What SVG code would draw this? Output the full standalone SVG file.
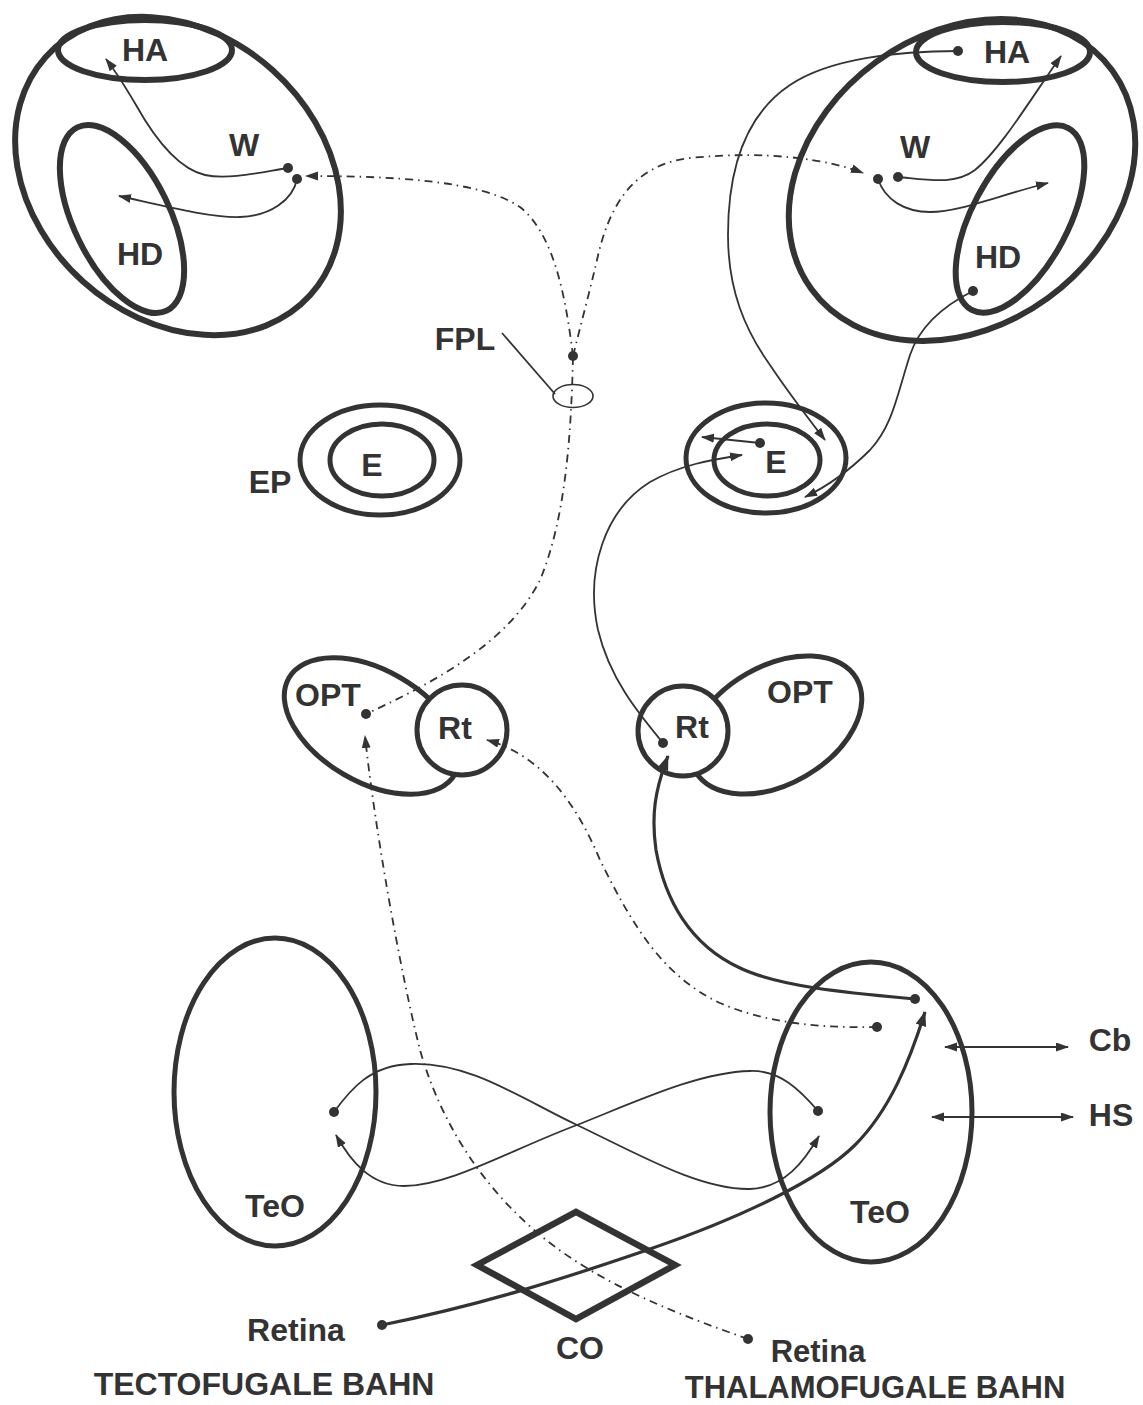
<svg xmlns="http://www.w3.org/2000/svg" width="1143" height="1405" viewBox="0 0 1143 1405">
  <style>
    .region { fill: none; stroke: #333; stroke-width: 6; }
    .nucleus { fill: none; stroke: #333; stroke-width: 5; }
    .cap { fill: #fff; stroke: #333; stroke-width: 5; }
    .lbl { font-family: "Liberation Sans", Arial, sans-serif; font-weight: bold; font-size: 32px; fill: #333; text-anchor: middle; }
    .small { font-size: 31px; }
    .thin { fill: none; stroke: #333; stroke-width: 1.8; }
    .thick { fill: none; stroke: #333; stroke-width: 3.2; }
    .dashdot { fill: none; stroke: #333; stroke-width: 1.8; stroke-dasharray: 8 5 1.5 5; }
    .dot { fill: #333; }
  </style>
  <defs>
    <marker id="arrow" markerUnits="userSpaceOnUse" markerWidth="14" markerHeight="10" refX="12" refY="4.5" orient="auto-start-reverse">
      <path d="M0,0 L13,4.5 L0,9 z" fill="#333"/>
    </marker>
    <marker id="arrowBig" markerUnits="userSpaceOnUse" markerWidth="16" markerHeight="12" refX="14" refY="5.5" orient="auto">
      <path d="M0,0 L15,5.5 L0,11 z" fill="#333"/>
    </marker>
  </defs>

  <rect width="1143" height="1405" fill="#fff"/>

  <!-- left hemisphere -->
  <g id="hemisphere-left">
    <ellipse class="region" cx="178" cy="176" rx="178" ry="142" transform="rotate(42 178 176)"/>
  </g>
  <g id="HA-left">
    <ellipse class="region" cx="145" cy="50" rx="87" ry="30"/>
    <text class="lbl" x="145" y="61">HA</text>
  </g>
  <g id="HD-left">
    <ellipse class="region" cx="122" cy="219" rx="48" ry="102" transform="rotate(-26 122 219)"/>
    <text class="lbl" x="140" y="265">HD</text>
  </g>
  <g id="W-left">
    <text class="lbl" x="244" y="156">W</text>
  </g>

  <!-- right hemisphere -->
  <g id="hemisphere-right">
    <ellipse class="region" cx="962" cy="180" rx="186" ry="146" transform="rotate(-36 962 180)"/>
  </g>
  <g id="HA-right">
    <ellipse class="region" cx="1003" cy="52" rx="87" ry="30"/>
    <text class="lbl" x="1007" y="63">HA</text>
  </g>
  <g id="HD-right">
    <ellipse class="region" cx="1020" cy="219" rx="48" ry="103" transform="rotate(28 1020 219)"/>
    <text class="lbl" x="998" y="268">HD</text>
  </g>
  <g id="W-right">
    <text class="lbl" x="915" y="158">W</text>
  </g>

  <!-- FPL -->
  <g id="FPL">
    <ellipse fill="none" stroke="#333" stroke-width="1.6" cx="573" cy="396" rx="20" ry="11.5"/>
    <text class="lbl" x="465" y="350">FPL</text>
    <path class="thin" d="M502,333 L555,394"/>
  </g>

  <!-- entopallium -->
  <g id="EP-left">
    <ellipse class="nucleus" cx="380" cy="460" rx="80" ry="55"/>
    <ellipse class="nucleus" cx="382" cy="460" rx="52" ry="36"/>
    <text class="lbl" x="372" y="476">E</text>
    <text class="lbl" x="270" y="493">EP</text>
  </g>
  <g id="EP-right">
    <ellipse class="nucleus" cx="766" cy="458" rx="80" ry="55"/>
    <ellipse class="nucleus" cx="767" cy="460" rx="53" ry="36"/>
    <text class="lbl" x="776" y="473">E</text>
  </g>

  <!-- thalamus -->
  <g id="OPT-left">
    <ellipse class="nucleus" cx="372" cy="726" rx="96" ry="56" transform="rotate(30 372 726)"/>
    <text class="lbl" x="328" y="706">OPT</text>
  </g>
  <g id="Rt-left">
    <circle class="cap" cx="462" cy="730" r="45"/>
    <text class="lbl" x="455" y="739">Rt</text>
  </g>
  <g id="OPT-right">
    <ellipse class="nucleus" cx="776" cy="725" rx="93" ry="59" transform="rotate(-30 776 725)"/>
    <text class="lbl" x="800" y="703">OPT</text>
  </g>
  <g id="Rt-right">
    <circle class="cap" cx="683" cy="731" r="45"/>
    <text class="lbl" x="692" y="738">Rt</text>
  </g>

  <!-- optic tectum -->
  <g id="TeO-left">
    <ellipse class="nucleus" cx="275" cy="1092" rx="101" ry="154"/>
    <text class="lbl" x="275" y="1217">TeO</text>
  </g>
  <g id="TeO-right">
    <ellipse class="nucleus" cx="871" cy="1112" rx="101" ry="150"/>
    <text class="lbl" x="880" y="1223">TeO</text>
  </g>

  <!-- chiasma opticum -->
  <g id="CO">
    <path d="M477,1265 L576,1212 L675,1265 L576,1319 z" fill="none" stroke="#333" stroke-width="6.5" stroke-linejoin="miter"/>
    <text class="lbl" x="580" y="1359">CO</text>
  </g>

  <g id="Cb"><text class="lbl" x="1110" y="1051">Cb</text></g>
  <g id="HS"><text class="lbl" x="1111" y="1126">HS</text></g>
  <g id="Retina-left"><text class="lbl" x="296" y="1341">Retina</text></g>
  <g id="Retina-right"><text class="lbl small" x="818" y="1362">Retina</text></g>
  <g id="captions">
    <text class="lbl" x="264" y="1395">TECTOFUGALE BAHN</text>
    <text class="lbl small" x="875" y="1398">THALAMOFUGALE BAHN</text>
  </g>

  <!-- pathways -->
  <g id="connectors">
    <!-- Wulst projections, left -->
    <path class="thin" marker-end="url(#arrow)" d="M288,168 C262,172 228,180 205,175 C175,168 150,130 136,105 C126,88 116,72 106,59"/>
    <path class="thin" marker-end="url(#arrow)" d="M297,179 C293,200 270,216 240,217 C210,218 160,205 119,196"/>
    <!-- Wulst projections, right -->
    <path class="thin" marker-end="url(#arrow)" d="M898,177 C930,180 955,185 975,170 C1000,150 1030,100 1061,56"/>
    <path class="thin" marker-end="url(#arrow)" d="M878,179 C885,200 905,212 930,212 C960,212 1000,195 1048,183"/>
    <!-- HA and HD to entopallium -->
    <path class="thin" marker-end="url(#arrow)" d="M958,51 C900,51 830,58 790,85 C745,115 728,170 728,235 C728,290 745,330 770,365 C790,395 808,418 825,440"/>
    <path class="thin" marker-end="url(#arrow)" d="M973,291 C945,305 920,325 910,355 C897,395 893,425 870,450 C850,470 830,485 805,497"/>
    <!-- entopallium internal / Rt input -->
    <path class="thin" marker-end="url(#arrow)" d="M760,443 L702,437"/>
    <path class="thin" marker-end="url(#arrow)" d="M663,743 C640,715 610,680 598,630 C585,570 605,510 650,482 C680,465 710,460 742,455"/>
    <!-- thalamofugal: FPL branches -->
    <path class="dashdot" marker-end="url(#arrow)" d="M573,356 C566,300 555,235 520,207 C480,180 390,176 306,176"/>
    <path class="dashdot" marker-end="url(#arrow)" d="M573,356 C582,320 590,290 597,260 C608,210 630,165 690,158 C770,150 830,160 863,173"/>
    <path class="dashdot" d="M573,357 C571,440 565,520 540,580 C510,640 440,680 366,714"/>
    <!-- retina to OPT -->
    <path class="dashdot" marker-end="url(#arrow)" d="M748,1339 C680,1315 600,1285 540,1235 C480,1185 440,1120 420,1050 C400,970 375,830 365,736"/>
    <!-- TeO to Rt (dash-dot) -->
    <path class="dashdot" marker-end="url(#arrow)" d="M877,1027 C830,1028 770,1025 720,1003 C660,975 630,920 600,860 C575,800 540,755 487,740"/>
    <!-- tectofugal: TeO to Rt -->
    <path class="thick" marker-end="url(#arrowBig)" d="M915,999 C850,993 780,987 740,968 C690,945 665,900 656,850 C651,815 655,790 668,756"/>
    <!-- retina to TeO -->
    <path class="thick" marker-end="url(#arrowBig)" d="M382,1325 C480,1305 560,1280 650,1249 C740,1218 820,1180 855,1145 C890,1110 910,1060 925,1012"/>
    <!-- intertectal -->
    <path class="thin" marker-end="url(#arrow)" d="M334,1112 C350,1090 370,1065 411,1064 C470,1062 520,1098 577,1125 C640,1155 700,1190 750,1189 C785,1188 805,1160 819,1136"/>
    <path class="thin" marker-end="url(#arrow)" d="M818,1111 C800,1090 780,1070 750,1071 C700,1072 640,1100 577,1125 C510,1150 450,1186 404,1186 C370,1186 350,1160 336,1135"/>
    <!-- Cb and HS -->
    <path class="thin" marker-start="url(#arrow)" marker-end="url(#arrow)" d="M945,1047 L1068,1047"/>
    <path class="thin" marker-start="url(#arrow)" marker-end="url(#arrow)" d="M932,1117 L1073,1117"/>
    <!-- cell bodies -->
    <circle class="dot" cx="288" cy="168" r="5"/>
    <circle class="dot" cx="297" cy="179" r="5"/>
    <circle class="dot" cx="878" cy="179" r="5"/>
    <circle class="dot" cx="898" cy="177" r="5"/>
    <circle class="dot" cx="958" cy="51" r="5"/>
    <circle class="dot" cx="973" cy="291" r="5"/>
    <circle class="dot" cx="573" cy="356" r="5"/>
    <circle class="dot" cx="760" cy="443" r="5"/>
    <circle class="dot" cx="366" cy="714" r="5"/>
    <circle class="dot" cx="663" cy="743" r="5"/>
    <circle class="dot" cx="915" cy="999" r="5"/>
    <circle class="dot" cx="877" cy="1027" r="5"/>
    <circle class="dot" cx="334" cy="1112" r="5"/>
    <circle class="dot" cx="818" cy="1111" r="5"/>
    <circle class="dot" cx="382" cy="1325" r="5"/>
    <circle class="dot" cx="748" cy="1339" r="5"/>
  </g>
</svg>
